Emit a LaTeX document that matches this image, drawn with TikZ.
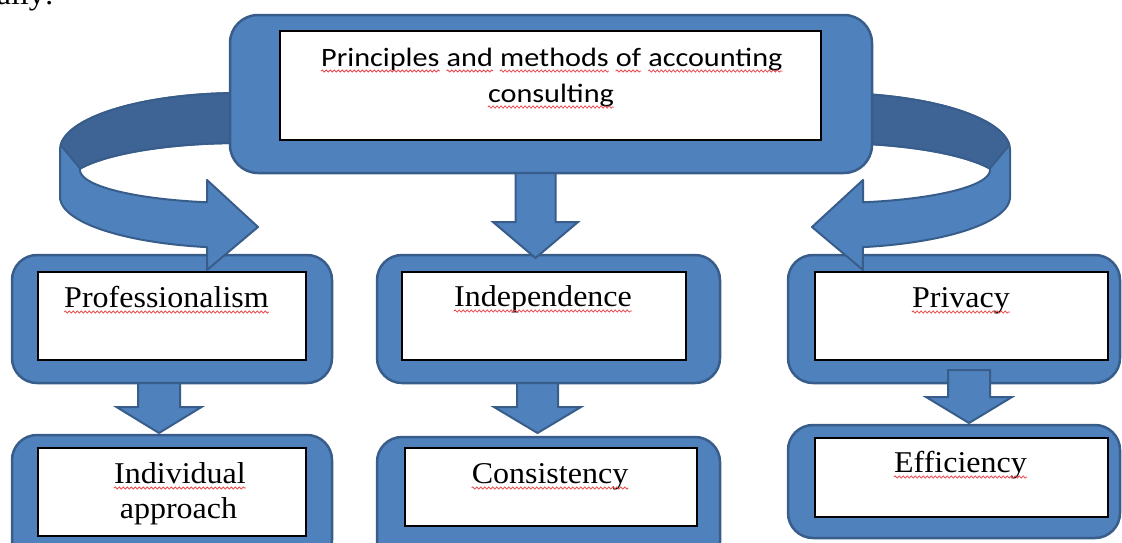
\documentclass[tikz,border=0pt]{standalone}
\usepackage{fontspec}
\usetikzlibrary{calc,decorations.pathmorphing}
\newfontfamily\tnrs[FakeStretch=1.06]{Liberation Serif}
\newfontfamily\carl[FakeStretch=1.14]{Carlito}
\definecolor{boxblue}{HTML}{4F81BD}
\definecolor{boxedge}{HTML}{385D8A}
\definecolor{backblue}{HTML}{3E6496}
\definecolor{squig}{HTML}{E8484C}
% vertical block arrow: #1 source, #2 target, #3 x centre, #4 shaft half width,
% #5 head half width, #6 head length, #7 start above source south, #8 tip below target north
\newcommand\vblock[8]{%
  \draw[blockarrow] let \p1=(#1.south), \p2=(#2.north) in
   ({(#3-#4)*1pt},{\y1+(#7)*1pt}) -- ({(#3+#4)*1pt},{\y1+(#7)*1pt})
   -- ({(#3+#4)*1pt},{\y2-(#8)*1pt+(#6)*1pt}) -- ({(#3+#5)*1pt},{\y2-(#8)*1pt+(#6)*1pt})
   -- ({#3*1pt},{\y2-(#8)*1pt})
   -- ({(#3-#5)*1pt},{\y2-(#8)*1pt+(#6)*1pt}) -- ({(#3-#4)*1pt},{\y2-(#8)*1pt+(#6)*1pt}) -- cycle;}
% curved ribbon arrow (left version, pixel coordinates)
\newcommand\ribbonarrow{%
  \path[ribbon] plot[domain=275:180, samples=40, variable=\t] ({240+180*cos(\t)},{150+57*sin(\t)})
   -- plot[domain=180:100.5, samples=30, variable=\t] ({240+180*cos(\t)},{197+51*sin(\t)})
   -- (207,270) -- (258,227) -- (207,180) -- (207,202.3)
   -- plot[domain=101.9:180, samples=30, variable=\t] ({240+160*cos(\t)},{170+33*sin(\t)})
   -- plot[domain=204:275, samples=30, variable=\t] ({240+175*cos(\t)},{186+43*sin(\t)})
   -- cycle;
  \path[ribbonback] plot[domain=275:185, samples=40, variable=\t] ({240+180*cos(\t)},{150+57*sin(\t)})
   -- plot[domain=204:275, samples=30, variable=\t] ({240+175*cos(\t)},{186+43*sin(\t)})
   -- cycle;}
% red wavy underline below a word node
\newcommand\sqline[1]{\draw[squiggle] ($(#1.base west)+(0,5)$) -- ($(#1.base east)+(0,5)$);}
\begin{document}
\begin{tikzpicture}[x=1pt,y=-1pt,
  outerbox/.style={rectangle, rounded corners=25pt, fill=boxblue, draw=boxedge, line width=2.5pt, inner sep=0pt, outer sep=0pt},
  innerbox/.style={rectangle, fill=white, draw=black, line width=1.3pt, inner sep=0pt, outer sep=0pt},
  lbl/.style={anchor=base, inner sep=0pt, font=\tnrs\fontsize{30.2}{36}\selectfont},
  toplbl/.style={anchor=base west, inner sep=0pt, font=\carl\fontsize{26.5}{32}\selectfont},
  blockarrow/.style={fill=boxblue, draw=boxedge, line width=2pt, line join=miter},
  ribbon/.style={fill=boxblue, draw=boxedge, line width=2pt, line join=round},
  ribbonback/.style={fill=backblue, draw=boxedge, line width=2pt, line join=round},
  squiggle/.style={draw=squig, line width=0.8pt, decorate, decoration={snake, segment length=4pt, amplitude=1.1pt}}]
\useasboundingbox (0,0) rectangle (1122,542);
\node[lbl, anchor=base east] (ally) at (54,4) {ally:};
% second row
\node[outerbox, minimum width=320pt, minimum height=128pt] (proO) at (172,319) {};
\node[innerbox, minimum width=268pt, minimum height=88pt] (proI) at (172,316) {};
\node[outerbox, minimum width=343pt, minimum height=128pt] (indO) at (548.5,319) {};
\node[innerbox, minimum width=284pt, minimum height=88pt] (indI) at (544,316) {};
\node[outerbox, minimum width=332pt, minimum height=128pt] (priO) at (954,319) {};
\node[innerbox, minimum width=293pt, minimum height=88pt] (priI) at (961.5,316) {};
% third row
\node[outerbox, minimum width=320pt, minimum height=130pt] (appO) at (172,500) {};
\node[innerbox, minimum width=268pt, minimum height=88pt] (appI) at (172,492) {};
\node[outerbox, minimum width=343pt, minimum height=130pt] (conO) at (548.5,502) {};
\node[innerbox, minimum width=292pt, minimum height=78pt] (conI) at (551,487) {};
\node[outerbox, minimum width=332pt, minimum height=113pt] (effO) at (954,481.5) {};
\node[innerbox, minimum width=293pt, minimum height=79pt] (effI) at (961.5,477.5) {};
% curved arrows
\begin{scope}
  \ribbonarrow
\end{scope}
\begin{scope}[xshift=1070pt, xscale=-1]
  \ribbonarrow
\end{scope}
% top box
\node[outerbox, rounded corners=28pt, minimum width=642pt, minimum height=158pt] (topO) at (551,94) {};
\node[innerbox, line width=2.5pt, minimum width=541pt, minimum height=109pt] (topI) at (550.5,85.5) {};
% straight block arrows
\vblock{topO}{indO}{535.5}{20}{42.5}{36}{0}{3}
\vblock{proO}{appO}{159}{21}{42.5}{26}{0}{-2}
\vblock{indO}{conO}{537.5}{20.5}{43.5}{26}{0}{-4}
\vblock{priO}{effO}{969}{21}{43}{26}{13}{-2}
% texts
\node[toplbl] (w1) at (321,66) {Principles};
\node[toplbl] (w2) at ($(w1.base east)+(6.8,0)$) {and};
\node[toplbl] (w3) at ($(w2.base east)+(6.8,0)$) {methods};
\node[toplbl] (w4) at ($(w3.base east)+(6.8,0)$) {of};
\node[toplbl] (w5) at ($(w4.base east)+(6.8,0)$) {accounting};
\node[toplbl, anchor=base] (w6) at (551,102) {consulting};
\node[lbl] (tpro) at (166.5,307) {Professionalism};
\node[lbl] (tind) at (543,306) {Independence};
\node[lbl] (tpri) at (961,307) {Privacy};
\node[lbl] (tapp1) at (180,483) {Individual};
\node[lbl] (tapp2) at (178.5,518) {approach};
\node[lbl] (tcon) at (550,483) {Consistency};
\node[lbl] (teff) at (960.5,472) {Efficiency};
\foreach \w in {w1,w2,w3,w4,w5,w6,tpro,tind,tpri,tapp1,tcon,teff} {\sqline{\w}}
\end{tikzpicture}
\end{document}
